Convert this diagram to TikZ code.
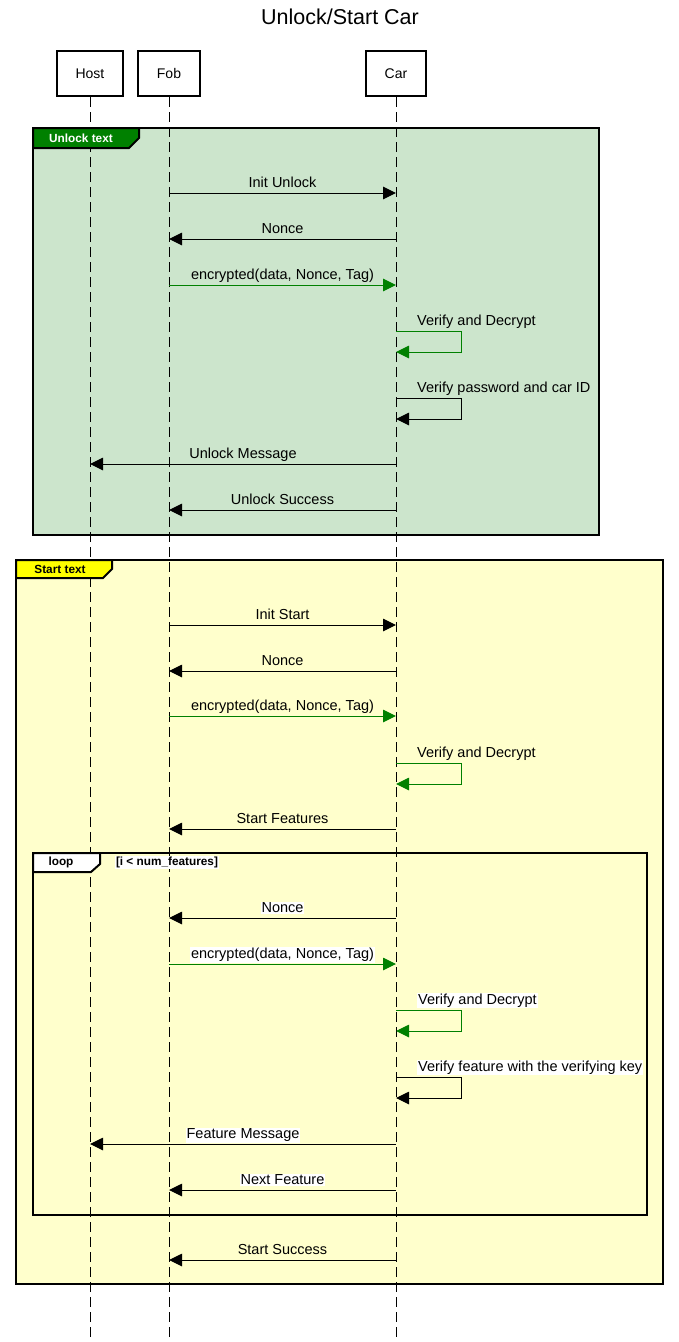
\documentclass[tikz,border=0pt]{standalone}
\usepackage{fontspec}
\setmainfont{Liberation Sans}
\usetikzlibrary{arrows.meta}

\definecolor{okgreen}{HTML}{008000}
\definecolor{unlockfill}{HTML}{CCE5CC}
\definecolor{startfill}{HTML}{FFFFCC}
\definecolor{starttab}{HTML}{FFFF00}

\tikzset{
  actor/.style={draw, line width=2pt, fill=white, minimum height=45pt, inner sep=0pt,
                font=\fontsize{14}{16}\selectfont},
  lifeline/.style={line width=1pt, dash pattern=on 10pt off 5pt},
  frame/.style={draw, line width=2pt},
  tab/.style={draw, line width=2pt},
  tabtext/.style={font=\bfseries\fontsize{11.8}{13}\selectfont, inner sep=0pt},
  msg/.style={line width=1pt, -{Triangle[length=13pt,width=12.5pt]}},
  gmsg/.style={msg, draw=okgreen, -{Triangle[length=13pt,width=12.5pt,fill=okgreen]}},
  lbl/.style={font=\fontsize{14.5}{16}\selectfont, inner sep=0pt},
  wlbl/.style={lbl, fill=white, inner sep=1pt},
}

% message between two lifelines: style, from, to, y, label style, label
\newcommand\seqmsg[6]{%
  \draw[#1] (#2 |- 0,#4) -- (#3 |- 0,#4)
    node[#5, midway, anchor=base, yshift=5.5pt] {#6};}
% self message on a lifeline: style, lifeline, y, label style, label
\newcommand\selfmsg[5]{%
  \draw[#1] (#2 |- 0,#3) -- ++(65,0) -- ++(0,21) -- (#2 |- 0,#3+21);
  \node[#4, anchor=base west] at ([xshift=21pt]#2 |- 0,#3-6) {#5};}

\begin{document}
\begin{tikzpicture}[x=1pt, y=-1pt]
  \useasboundingbox[fill=white] (0,0) rectangle (679,1342);

  % title
  \node[font=\fontsize{21.5}{24}\selectfont, inner sep=0pt] (title) at (340,17) {Unlock/Start Car};

  % participants
  \node[actor, minimum width=66pt] (host) at (90,73.5) {Host};
  \node[actor, minimum width=62pt] (fob)  at (169,73.5) {Fob};
  \node[actor, minimum width=60pt] (car)  at (396,73.5) {Car};

  % combined fragments (background)
  \draw[frame, fill=unlockfill] (33,128) rectangle (599,535);
  \draw[frame, fill=startfill] (16,560) rectangle (663,1284);
  \draw[frame] (33,853) rectangle (647,1215);

  % lifelines
  \foreach \p in {host, fob, car}
    \draw[lifeline] (\p.south) -- (\p.south |- 0,1342);

  % fragment tabs
  \draw[tab, fill=okgreen] (33,128) -- (139,128) -- (139,138) -- (129,148) -- (33,148) -- cycle;
  \node[tabtext, text=white] (unlocktab) at (81,138) {Unlock text};
  \draw[tab, fill=starttab] (16,560) -- (112,560) -- (112,569) -- (103,578) -- (16,578) -- cycle;
  \node[tabtext] (starttab) at (60,569) {Start text};
  \draw[tab, fill=white] (33,853) -- (100,853) -- (100,864) -- (91,872) -- (33,872) -- cycle;
  \node[tabtext] (looptab) at (61,862.5) {loop};
  \node[tabtext, fill=white, inner sep=1pt] (guard) at (167,862.5) {[i < num\_features]};

  % unlock
  \seqmsg{msg}{fob}{car}{193}{lbl}{Init Unlock}
  \seqmsg{msg}{car}{fob}{239}{lbl}{Nonce}
  \seqmsg{gmsg}{fob}{car}{285}{lbl}{encrypted(data, Nonce, Tag)}
  \selfmsg{gmsg}{car}{331}{lbl}{Verify and Decrypt}
  \selfmsg{msg}{car}{398}{lbl}{Verify password and car ID}
  \seqmsg{msg}{car}{host}{464}{lbl}{Unlock Message}
  \seqmsg{msg}{car}{fob}{510}{lbl}{Unlock Success}

  % start
  \seqmsg{msg}{fob}{car}{625}{lbl}{Init Start}
  \seqmsg{msg}{car}{fob}{671}{lbl}{Nonce}
  \seqmsg{gmsg}{fob}{car}{716}{lbl}{encrypted(data, Nonce, Tag)}
  \selfmsg{gmsg}{car}{763}{lbl}{Verify and Decrypt}
  \seqmsg{msg}{car}{fob}{829}{lbl}{Start Features}

  % loop over features
  \seqmsg{msg}{car}{fob}{918}{wlbl}{Nonce}
  \seqmsg{gmsg}{fob}{car}{964}{wlbl}{encrypted(data, Nonce, Tag)}
  \selfmsg{gmsg}{car}{1010}{wlbl}{Verify and Decrypt}
  \selfmsg{msg}{car}{1077}{wlbl}{Verify feature with the verifying key}
  \seqmsg{msg}{car}{host}{1144}{wlbl}{Feature Message}
  \seqmsg{msg}{car}{fob}{1190}{wlbl}{Next Feature}

  \seqmsg{msg}{car}{fob}{1260}{lbl}{Start Success}
\end{tikzpicture}
\end{document}
